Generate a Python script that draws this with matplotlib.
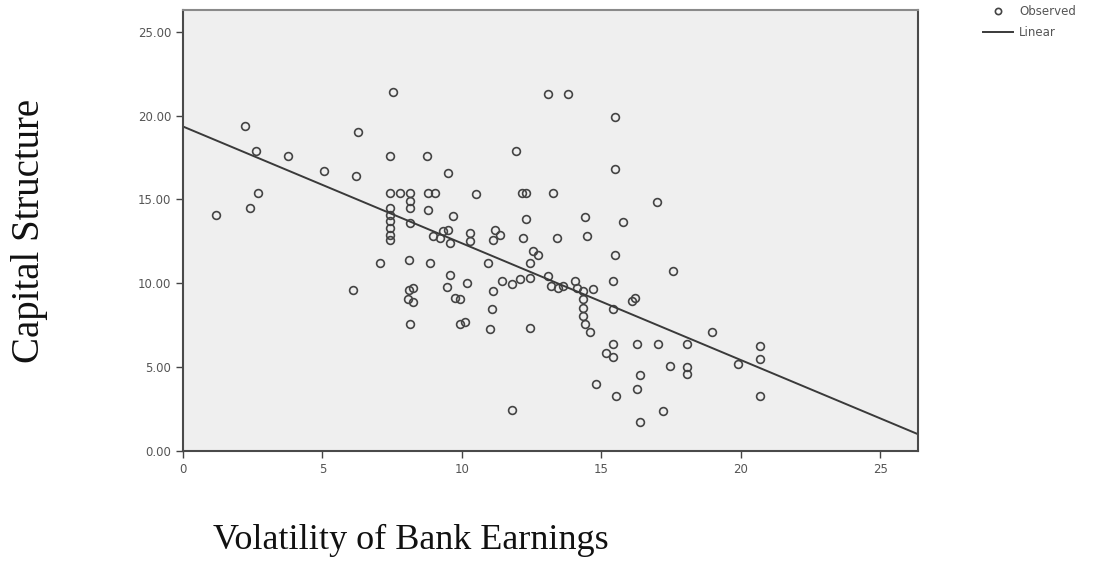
import numpy as np
import matplotlib.pyplot as plt

# --- Datos ---
volatilidad = [1.2, 2.22, 2.4, 2.62, 2.7, 3.78, 5.07, 6.08, 6.22, 6.28,
               7.06, 7.54, 7.42, 7.42, 7.42, 7.42, 7.42, 7.42, 7.42, 7.42,
               7.78, 8.14, 8.14, 8.14, 8.14, 8.11, 8.11, 8.24, 8.06, 8.26,
               8.14, 8.73, 8.8, 9.05, 8.8, 8.85, 8.96, 9.2, 9.32, 9.5,
               9.57, 9.51, 9.68, 9.57, 9.45, 9.75, 9.93, 9.93, 10.17, 10.29,
               10.29, 10.52, 10.1, 10.94, 11.0, 11.06, 11.12, 11.18, 11.36, 11.12,
               11.42, 11.78, 11.78, 11.94, 12.08, 12.14, 12.3, 12.3, 12.2, 12.44,
               12.56, 12.74, 12.44, 12.44, 13.1, 13.8, 13.27, 13.1, 13.2, 13.45,
               13.39, 13.63, 14.05, 14.11, 14.35, 14.71, 14.41, 14.47, 14.35, 14.35,
               14.35, 14.4, 14.59, 14.82, 15.18, 15.42, 15.42, 15.42, 15.42, 15.48,
               15.48, 15.48, 15.54, 15.78, 16.08, 16.2, 16.26, 16.38, 16.26, 16.38,
               16.98, 17.04, 17.22, 17.46, 17.57, 18.05, 18.05, 18.05, 18.95, 19.9,
               20.68, 20.68, 20.68]
estructura = [14.1, 19.4, 14.5, 17.9, 15.4, 17.6, 16.7, 9.6, 16.4, 19.0,
              11.2, 21.4, 17.6, 15.4, 14.5, 14.1, 13.7, 13.3, 12.9, 12.6,
              15.4, 15.4, 14.9, 14.5, 13.6, 11.4, 9.6, 9.7, 9.05, 8.9,
              7.56, 17.6, 15.4, 15.4, 14.4, 11.2, 12.8, 12.7, 13.1, 13.2,
              12.4, 16.6, 14.0, 10.5, 9.8, 9.15, 9.05, 7.56, 10.04, 13.0,
              12.5, 15.3, 7.7, 11.2, 7.26, 8.45, 9.54, 13.2, 12.9, 12.6,
              10.14, 9.94, 2.46, 17.9, 10.24, 15.4, 15.4, 13.85, 12.7, 10.34,
              11.9, 11.7, 11.2, 7.36, 21.3, 21.3, 15.4, 10.44, 9.84, 9.74,
              12.7, 9.84, 10.14, 9.74, 9.54, 9.64, 13.97, 12.8, 9.05, 8.55,
              8.05, 7.56, 7.07, 3.99, 5.87, 5.58, 6.37, 8.45, 10.14, 11.7,
              16.8, 19.9, 3.29, 13.65, 8.95, 9.15, 6.37, 4.52, 3.69, 1.71,
              14.84, 6.37, 2.4, 5.08, 10.73, 4.98, 4.58, 6.37, 7.1, 5.2,
              6.27, 5.48, 3.29]

# Recta de ajuste (extremos)
ajuste_x = [0.0, 26.35]
ajuste_y = [19.35, 1.0]

y_ticks = [0, 5, 10, 15, 20, 25]
x_ticks = [0, 5, 10, 15, 20, 25]

# --- Figura ---
fig = plt.figure(figsize=(11.07, 5.64), dpi=100)
ax = fig.add_axes([0.1653, 0.2004, 0.6640, 0.7819])
ax.set_facecolor("#efefef")

obs, = ax.plot(volatilidad, estructura, linestyle="none", marker="o",
               markersize=5.6, markerfacecolor="none", markeredgecolor="#444444",
               markeredgewidth=1.2, label="Observed")
lin, = ax.plot(ajuste_x, ajuste_y, color="#3a3a3a", linewidth=1.4, label="Linear")

ax.set_xlim(0, 26.35)
ax.set_ylim(0, 26.3)
ax.set_xticks(x_ticks)
ax.set_xticklabels([str(t) for t in x_ticks])
ax.set_yticks(y_ticks)
ax.set_yticklabels([f"{t:.2f}" for t in y_ticks])
ax.tick_params(axis="both", direction="out", length=5, width=1, colors="#444444",
               labelsize=8.5, labelcolor="#555555")

for lado in ["left", "bottom", "right", "top"]:
    ax.spines[lado].set_color("#4a4a4a")
    ax.spines[lado].set_linewidth(1.5)
ax.spines["top"].set_color("#8a8a8a")

fig.text(0.371, 0.042, "Volatility of Bank Earnings", family="Liberation Serif",
         fontsize=26, ha="center", va="center", color="#111111")
fig.text(0.027, 0.59, "Capital Structure", family="Liberation Serif",
         fontsize=28, rotation=90, ha="center", va="center", color="#111111")

fig.legend(handles=[obs, lin], loc="upper left", bbox_to_anchor=(0.878, 1.01),
           frameon=False, fontsize=8.5, handlelength=2.6, handletextpad=0.5,
           labelspacing=0.7, markerscale=0.8, labelcolor="#555555")

plt.savefig("out.png", dpi=100)
